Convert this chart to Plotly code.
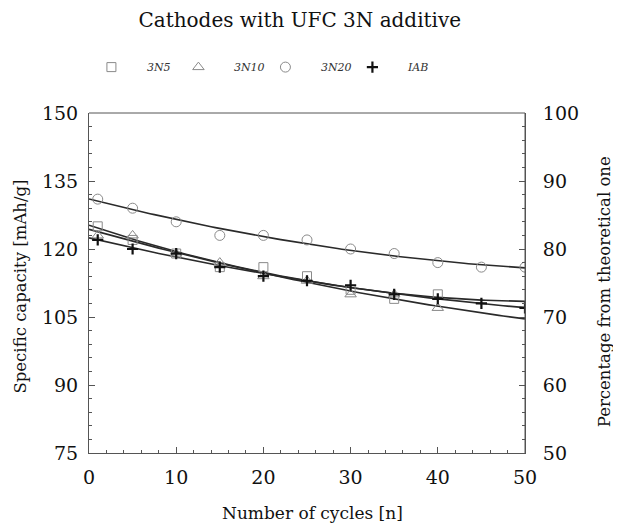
import numpy as np
import plotly.graph_objects as go

# ---- data ----
cycles_a = [1, 5, 10, 15, 20, 25, 30, 35, 40]
cycles_b = [1, 5, 10, 15, 20, 25, 30, 35, 40, 45, 50]
cap_3n5 = [125, 122, 119, 116, 116, 114, 111, 109, 110]
cap_3n10 = [123, 123, 119, 117, 114, 113, 110, 110, 107]
cap_3n20 = [131, 129, 126, 123, 123, 122, 120, 119, 117, 116, 116]
cap_iab = [122, 120, 119, 116, 114, 113, 112, 110, 109, 108, 107]

series_names = ["3N5", "3N10", "3N20", "IAB"]
title_text = "Cathodes with UFC 3N additive"
x_title = "Number of cycles [n]"
y_title = "Specific capacity [mAh/g]"
y2_title = "Percentage from theoretical one"

SERIF = "DejaVu Serif"
MARK = "#8a8a8a"
LINE = "#2a2a2a"

fig = go.Figure()

series = [
    (cycles_a, cap_3n5, "square-open", MARK, 9),
    (cycles_a, cap_3n10, "triangle-up-open", MARK, 10),
    (cycles_b, cap_3n20, "circle-open", MARK, 10),
    (cycles_b, cap_iab, "cross-thin-open", "#111111", 8),
]

xfit = np.linspace(0, 50, 101)
for (xs, ys, sym, col, sz), name in zip(series, series_names):
    coef = np.polyfit(xs, ys, 2)
    fig.add_trace(go.Scatter(x=xfit, y=np.polyval(coef, xfit), mode="lines",
                             line=dict(color=LINE, width=1.6), showlegend=False,
                             hoverinfo="skip"))
for i, ((xs, ys, sym, col, sz), name) in enumerate(zip(series, series_names)):
    lw = 2.2 if sym.startswith("cross") else 1
    extra = dict(legendwidth=45) if i == len(series) - 1 else {}
    fig.add_trace(go.Scatter(x=xs, y=ys, mode="markers", name="<i>" + name + "</i>",
                             marker=dict(symbol=sym, size=sz, color=col,
                                         line=dict(color=col, width=lw)), **extra))

# invisible trace on the secondary axis so it renders
fig.add_trace(go.Scatter(x=[0], y=[50], yaxis="y2", mode="markers",
                         marker=dict(opacity=0), showlegend=False, hoverinfo="skip"))

axis_common = dict(
    showline=True, linecolor="#555", linewidth=1, mirror=False,
    ticks="inside", ticklen=6, tickcolor="#555",
    showgrid=False, zeroline=False,
    tickfont=dict(family=SERIF, size=19, color="#111"),
)

fig.update_layout(
    width=613, height=515,
    margin=dict(l=81, r=96, t=105, b=70),
    paper_bgcolor="white", plot_bgcolor="white",
    title=dict(text=title_text, x=0.476, xanchor="center", y=0.976, yanchor="middle",
               font=dict(family=SERIF, size=20, color="#111")),
    xaxis=dict(range=[0, 50], tickvals=[0, 10, 20, 30, 40, 50],
               minor=dict(dtick=2, ticks="inside", ticklen=3, tickcolor="#555"),
               ticklabelstandoff=7, **axis_common),
    yaxis=dict(range=[75, 150], tickvals=[75, 90, 105, 120, 135, 150],
               minor=dict(dtick=3, ticks="inside", ticklen=3, tickcolor="#555"),
               ticklabelstandoff=6, **axis_common),
    yaxis2=dict(range=[50, 100], tickvals=[50, 60, 70, 80, 90, 100], overlaying="y",
                side="right", anchor="x",
                minor=dict(dtick=2, ticks="inside", ticklen=3, tickcolor="#555"),
                ticklabelstandoff=13, **axis_common),
    legend=dict(orientation="h", x=-0.030, xanchor="left", y=1.135, yanchor="middle",
                font=dict(family=SERIF, size=11, color="#333"),
                entrywidth=11, entrywidthmode="pixels", itemwidth=61,
                bgcolor="rgba(0,0,0,0)"),
    showlegend=True,
)

# frame lines (top and right)
fig.add_shape(type="line", xref="paper", yref="paper", x0=0, x1=1, y0=1, y1=1,
              line=dict(color="#555", width=1))
fig.add_shape(type="line", xref="paper", yref="paper", x0=1, x1=1, y0=0, y1=1,
              line=dict(color="#555", width=1))

fig.add_annotation(text=x_title, xref="paper", yref="paper", x=0.513, y=-0.176,
                   showarrow=False, yanchor="middle",
                   font=dict(family=SERIF, size=17, color="#111"))
fig.add_annotation(text=y_title, xref="paper", yref="paper", x=-0.158, y=0.49,
                   showarrow=False, textangle=-90, xanchor="center",
                   font=dict(family=SERIF, size=16.5, color="#111"))
fig.add_annotation(text=y2_title, xref="paper", yref="paper", x=1.182, y=0.474,
                   showarrow=False, textangle=-90, xanchor="center",
                   font=dict(family=SERIF, size=16.5, color="#111"))

fig.write_html("out.html")
